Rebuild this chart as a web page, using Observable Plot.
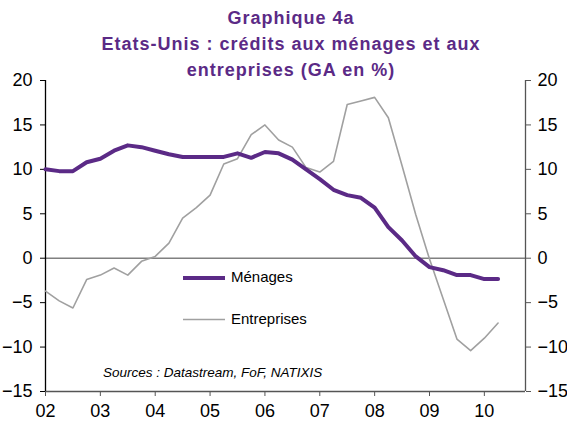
<!DOCTYPE html>
<html>
<head>
<meta charset="utf-8">
<script src="https://cdn.jsdelivr.net/npm/d3@7"></script>
<script src="https://cdn.jsdelivr.net/npm/@observablehq/plot@0.6"></script>
<style>
  html, body { margin: 0; padding: 0; background: #fff; }
  #wrap { position: relative; width: 567px; height: 427px; font-family: "Liberation Sans", Arial, sans-serif; }
  #title { position: absolute; left: 0; width: 582px; top: 5px; text-align: center; color: #5B2A86; font-weight: bold; font-size: 18px; line-height: 26px; letter-spacing: 1px; }
  .lg { position: absolute; font-size: 15px; color: #000; }
  #src { position: absolute; left: 103px; top: 365px; font-size: 13.5px; font-style: italic; color: #000; }
  #legsvg { position: absolute; left: 0; top: 0; }
</style>
</head>
<body>
<div id="wrap">
  <div id="chart"></div>
  <div id="title">Graphique 4a<br>Etats-Unis : crédits aux ménages et aux<br>entreprises (GA en %)</div>
  <svg id="legsvg" width="567" height="427">
    <line x1="183" x2="225" y1="278" y2="278" stroke="#5B2A86" stroke-width="4"></line>
    <line x1="183" x2="225" y1="319.5" y2="319.5" stroke="#A0A0A0" stroke-width="1.6"></line>
  </svg>
  <div class="lg" style="left:231px; top:268px;">Ménages</div>
  <div class="lg" style="left:231px; top:310px;">Entreprises</div>
  <div id="src">Sources : Datastream, FoF, NATIXIS</div>
</div>
<script>
const quarters = [
  "2002T1","2002T2","2002T3","2002T4",
  "2003T1","2003T2","2003T3","2003T4",
  "2004T1","2004T2","2004T3","2004T4",
  "2005T1","2005T2","2005T3","2005T4",
  "2006T1","2006T2","2006T3","2006T4",
  "2007T1","2007T2","2007T3","2007T4",
  "2008T1","2008T2","2008T3","2008T4",
  "2009T1","2009T2","2009T3","2009T4",
  "2010T1","2010T2"
];
const menages = [
  10.0, 9.8, 9.8, 10.8,
  11.2, 12.1, 12.7, 12.5,
  12.1, 11.7, 11.4, 11.4,
  11.4, 11.4, 11.8, 11.3,
  11.95, 11.8, 11.1, 10.0,
  8.9, 7.7, 7.1, 6.8,
  5.7, 3.5, 2.0, 0.2,
  -1.0, -1.35, -1.9, -1.9,
  -2.35, -2.35
];
const entreprises = [
  -3.7, -4.8, -5.6, -2.4,
  -1.9, -1.1, -1.9, -0.35,
  0.2, 1.7, 4.5, 5.7,
  7.1, 10.6, 11.2, 13.9,
  15.0, 13.3, 12.5, 10.2,
  9.7, 10.9, 17.3, 17.7,
  18.1, 15.8, 10.4, 4.9,
  -0.1, -4.6, -9.1, -10.4,
  -9.0, -7.3
];
const yTicks = [-15, -10, -5, 0, 5, 10, 15, 20];
const xTicks = [2002, 2003, 2004, 2005, 2006, 2007, 2008, 2009, 2010];
const xTickLabels = ["02","03","04","05","06","07","08","09","10"];

const toYear = q => +q.slice(0, 4) + (+q.slice(5) - 1) / 4;
const rowsM = quarters.map((q, i) => ({x: toYear(q), y: menages[i]}));
const rowsE = quarters.map((q, i) => ({x: toYear(q), y: entreprises[i]}));

const xMin = 2002, xMax = 2010.75;

const chart = Plot.plot({
  width: 567,
  height: 427,
  marginLeft: 45,
  marginRight: 42,
  marginTop: 80,
  marginBottom: 36,
  style: {fontFamily: "'Liberation Sans', Arial, sans-serif", fontSize: "18px", color: "#000", background: "transparent"},
  x: {domain: [xMin, xMax]},
  y: {domain: [-15, 20]},
  marks: [
    Plot.ruleY([0], {stroke: "#808080", strokeWidth: 1.5}),
    Plot.ruleY([-15], {stroke: "#555", strokeWidth: 1.3}),
    Plot.ruleX([xMin], {y1: -15, y2: 20, stroke: "#000", strokeWidth: 1.3}),
    Plot.ruleX([xMax], {y1: -15, y2: 20, stroke: "#555", strokeWidth: 1.3}),
    Plot.axisY({anchor: "left", ticks: yTicks, tickSize: 5, tickPadding: 8, label: null, fontSize: 18, stroke: "#000"}),
    Plot.axisY({anchor: "right", ticks: yTicks, tickSize: 5, tickPadding: 7, label: null, fontSize: 18, stroke: "#555"}),
    Plot.axisX({ticks: xTicks, tickFormat: d => xTickLabels[xTicks.indexOf(d)], tickSize: 5, tickPadding: 8, label: null, fontSize: 18, stroke: "#555"}),
    Plot.line(rowsE, {x: "x", y: "y", stroke: "#A0A0A0", strokeWidth: 1.6}),
    Plot.line(rowsM, {x: "x", y: "y", stroke: "#5B2A86", strokeWidth: 4, strokeLinejoin: "round"})
  ]
});
document.getElementById("chart").appendChild(chart);
</script>
</body>
</html>
